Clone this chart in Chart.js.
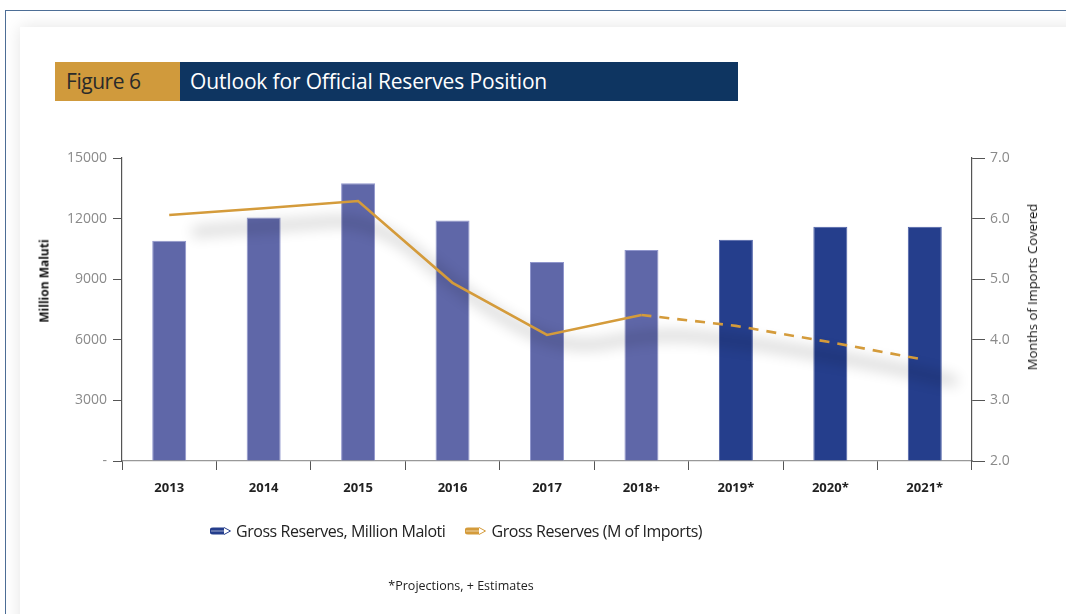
<!DOCTYPE html>
<html>
<head>
<meta charset="utf-8">
<script src="https://cdn.jsdelivr.net/npm/chart.js@4.4.1/dist/chart.umd.min.js"></script>
<style>
  html, body { margin: 0; padding: 0; background: #fff; }
  body { width: 1066px; height: 614px; position: relative; overflow: hidden; font-family: "Open Sans", sans-serif; }
  #frame { position: absolute; left: 5px; top: 10px; width: 1100px; height: 700px;
    border-top: 1.5px solid #4d6e96; border-left: 1.5px solid #4d6e96; }
  #panel { position: absolute; left: 20px; top: 27px; width: 1100px; height: 700px; background: #fff;
    box-shadow: 0 0 16px rgba(0,0,0,0.11); }
  #banner { position: absolute; left: 55px; top: 62px; height: 39px; display: flex;
    font-family: "Open Sans", sans-serif; font-size: 21px; line-height: 39px; letter-spacing: -0.15px; }
  #banner .fig { width: 125px; background: #d09a3c; color: #2a2a2a; padding-left: 11px; box-sizing: border-box; letter-spacing: -0.45px; }
  #banner .ttl { width: 558px; background: #0e3561; color: #fff; padding-left: 10px; box-sizing: border-box; }
  canvas#chart { position: absolute; left: 0; top: 0; }
  .axt { position: absolute; color: #111; white-space: nowrap;
    transform: translate(-50%, -50%) rotate(-90deg); font-family: "Open Sans", sans-serif; }
  #legend { position: absolute; left: 210px; top: 520px; display: flex; align-items: center;
    font-size: 16px; color: #222; letter-spacing: -0.45px; }
  #legend .item { display: flex; align-items: center; margin-right: 20px; }
  #legend canvas { margin-right: 4px; }
  #note { position: absolute; left: 461px; top: 585px; transform: translate(-50%, -50%);
    font-size: 12.5px; color: #222; white-space: nowrap; }
</style>
</head>
<body>
<div id="frame"></div>
<div id="panel"></div>
<div id="banner"><div class="fig">Figure 6</div><div class="ttl">Outlook for Official Reserves Position</div></div>
<canvas id="chart" width="1066" height="614"></canvas>
<div class="axt" style="left:44px; top:281px; font-size:12px; font-weight:bold;">Million Maluti</div>
<div class="axt" style="left:1032px; top:287px; font-size:13px;">Months of Imports Covered</div>
<div id="legend"></div>
<div id="note">*Projections, + Estimates</div>
<script>
// Data
const years = ["2013", "2014", "2015", "2016", "2017", "2018+", "2019*", "2020*", "2021*"];
const reservesMaloti = [10900, 12050, 13750, 11900, 9850, 10450, 10950, 11600, 11600];
const monthsOfImports = [6.06, 6.17, 6.29, 4.94, 4.08, 4.41, 4.23, 3.96, 3.67];
const firstProjection = 6; // index of 2019*

const histColor = "#5f67a8";
const projColor = "#253e8c";
const lineColor = "#d49b3b";

// soft drop shadow under the line, as in the printed figure
const lineShadow = {
  id: "lineShadow",
  beforeDatasetDraw(chart, args) {
    if (args.meta.type !== "line") return;
    const pts = args.meta.data;
    const ctx = chart.ctx;
    const shift = 3000;
    ctx.save();
    ctx.beginPath();
    pts.forEach((p, i) => {
      if (i === 0) ctx.moveTo(p.x - shift + 12, p.y);
      else {
        const prev = pts[i - 1];
        const mx = (prev.x + p.x) / 2 - shift;
        const my = (prev.y + p.y) / 2;
        ctx.quadraticCurveTo(prev.x - shift, prev.y, mx, my);
        if (i === pts.length - 1) ctx.lineTo(p.x - shift + 10, p.y + 4);
      }
    });
    ctx.lineWidth = 10;
    ctx.lineCap = "round";
    ctx.lineJoin = "round";
    ctx.strokeStyle = "#000";
    ctx.shadowColor = "rgba(0,0,0,0.16)";
    ctx.shadowBlur = 14;
    ctx.shadowOffsetX = shift + 18;
    ctx.shadowOffsetY = 17;
    ctx.stroke();
    ctx.restore();
  }
};

const ctx = document.getElementById("chart").getContext("2d");
const chart = new Chart(ctx, {
  type: "bar",
  data: {
    labels: years,
    datasets: [
      {
        type: "line",
        label: "Gross Reserves (M of Imports)",
        data: monthsOfImports,
        yAxisID: "y1",
        borderColor: lineColor,
        borderWidth: 2.6,
        pointRadius: 0,
        tension: 0,
        order: 0,
        segment: {
          borderDash: (c) => (c.p0DataIndex >= firstProjection - 1 ? [10, 8] : undefined),
        },
      },
      {
        label: "Gross Reserves, Million Maloti",
        data: reservesMaloti,
        yAxisID: "y",
        backgroundColor: years.map((y, i) => (i < firstProjection ? histColor : projColor)),
        borderColor: years.map((y, i) => (i < firstProjection ? "#9096cc" : "#4c5fa6")),
        borderWidth: { top: 1, left: 1, right: 1, bottom: 0 },
        barPercentage: 0.36,
        categoryPercentage: 1,
        order: 1,
      },
    ],
  },
  options: {
    responsive: false,
    animation: false,
    layout: { padding: { left: 22, right: 0, top: 158, bottom: 113 } },
    plugins: {
      legend: { display: false },
      tooltip: { enabled: false },
    },
    scales: {
      x: {
        grid: { offset: true, drawOnChartArea: false, tickLength: 9, color: "#555", lineWidth: 1 },
        border: { color: "#999", width: 1.2 },
        ticks: {
          padding: 10,
          color: "#222",
          font: { family: "'Open Sans', sans-serif", size: 13, weight: "bold" },
        },
        afterFit(scale) { scale.height = 40; },
      },
      y: {
        position: "left",
        min: 0,
        max: 15000,
        ticks: {
          stepSize: 3000,
          padding: 6,
          color: "#8a8a8a",
          font: { family: "'Open Sans', sans-serif", size: 14 },
          callback: (v) => (v === 0 ? "-" : v),
        },
        grid: { drawOnChartArea: false, tickLength: 9, color: "#555" },
        border: { color: "#555", width: 1.2 },
        afterFit(scale) { scale.width = 100; },
      },
      y1: {
        position: "right",
        min: 2,
        max: 7,
        ticks: {
          stepSize: 1,
          padding: 5,
          color: "#8a8a8a",
          font: { family: "'Open Sans', sans-serif", size: 14 },
          callback: (v) => Number(v).toFixed(1),
        },
        grid: { drawOnChartArea: false, tickLength: 13, color: "#555" },
        border: { color: "#555", width: 1.2 },
        afterFit(scale) { scale.width = 94; },
      },
    },
  },
  plugins: [lineShadow],
});

// pencil-shaped legend markers
function pencilIcon(color) {
  const c = document.createElement("canvas");
  c.width = 22; c.height = 12;
  const g = c.getContext("2d");
  g.fillStyle = color;
  g.beginPath();
  g.moveTo(3, 2.5); g.lineTo(14, 2.5); g.lineTo(14, 9.5); g.lineTo(3, 9.5);
  g.arc(3, 6, 3.5, Math.PI / 2, Math.PI * 1.5);
  g.fill();
  g.strokeStyle = "rgba(255,255,255,0.7)";
  g.lineWidth = 0.8;
  g.beginPath(); g.moveTo(1, 6); g.lineTo(14, 6); g.stroke();
  g.strokeStyle = color;
  g.lineWidth = 1;
  g.beginPath(); g.moveTo(14, 2.5); g.lineTo(20.5, 6); g.lineTo(14, 9.5); g.stroke();
  return c;
}

const legendEl = document.getElementById("legend");
[chart.data.datasets[1], chart.data.datasets[0]].forEach((ds, i) => {
  const item = document.createElement("div");
  item.className = "item";
  item.appendChild(pencilIcon(i === 0 ? projColor : lineColor));
  const span = document.createElement("span");
  span.textContent = ds.label;
  item.appendChild(span);
  legendEl.appendChild(item);
});
</script>
</body>
</html>
